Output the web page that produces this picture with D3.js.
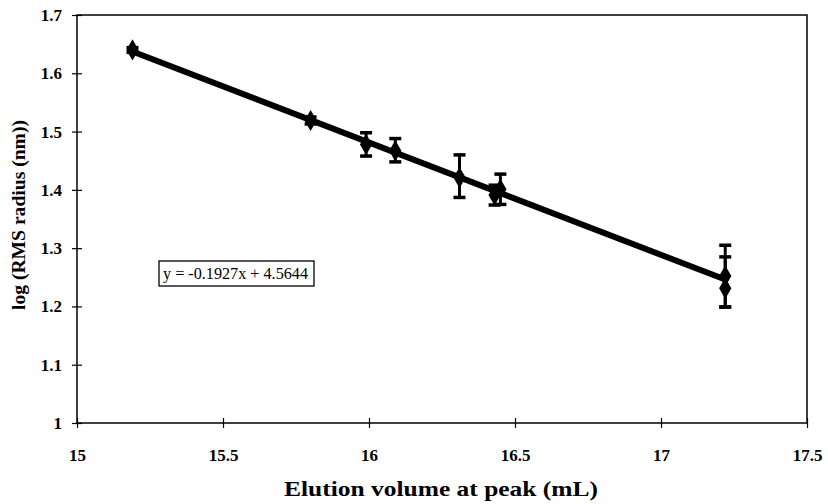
<!DOCTYPE html>
<html><head><meta charset="utf-8">
<script src="https://cdn.jsdelivr.net/npm/d3@7"></script>
<style>body{margin:0;background:#fff}svg{display:block}</style>
</head><body>
<script>
const xValues = [15.19, 15.80, 15.99, 16.09, 16.31, 16.43, 16.45, 17.22, 17.22];
const yValues = [1.640, 1.519, 1.478, 1.467, 1.421, 1.391, 1.401, 1.252, 1.231];
const errLow  = [0.004, 0.006, 0.020, 0.019, 0.034, 0.017, 0.026, 0.053, 0.032];
const errHigh = [0.004, 0.006, 0.020, 0.021, 0.039, 0.017, 0.026, 0.053, 0.054];
const slope = -0.1927, intercept = 4.5644;
const xTicks = [15, 15.5, 16, 16.5, 17, 17.5];
const yTicks = [1, 1.1, 1.2, 1.3, 1.4, 1.5, 1.6, 1.7];
const eqLabel = "y = -0.1927x + 4.5644";

const W = 828, H = 504;
const svg = d3.select("body").append("svg").attr("width", W).attr("height", H);
const x = d3.scaleLinear().domain([15, 17.5]).range([77, 807]);
const y = d3.scaleLinear().domain([1, 1.7]).range([423, 15]);
const font = "'Liberation Serif', 'Times New Roman', serif";

// frame
svg.append("rect").attr("x", 77).attr("y", 15).attr("width", 730).attr("height", 408)
  .attr("fill", "none").attr("stroke", "#000").attr("stroke-width", 1.5);

// axes
const xAx = svg.append("g").attr("transform", "translate(0,423)")
  .call(d3.axisBottom(x).tickValues(xTicks).tickSize(5).tickFormat(d3.format("")));
xAx.attr("font-family", null).attr("font-size", null);
xAx.select(".domain").remove();
xAx.selectAll(".tick line").attr("y1", -5).attr("y2", 5).attr("stroke-width", 1.2);
xAx.selectAll(".tick text").attr("y", 26)
  .style("font-family", font).style("font-weight", "bold").style("font-size", "17px").attr("fill", "#000");

const yAx = svg.append("g").attr("transform", "translate(77,0)")
  .call(d3.axisLeft(y).tickValues(yTicks).tickSize(5).tickFormat(d3.format("")));
yAx.attr("font-family", null).attr("font-size", null);
yAx.select(".domain").remove();
yAx.selectAll(".tick line").attr("x1", -5).attr("x2", 5).attr("stroke-width", 1.2);
yAx.selectAll(".tick text").attr("x", -15)
  .style("font-family", font).style("font-weight", "bold").style("font-size", "17px").attr("fill", "#000");

// axis titles
svg.append("text").attr("x", 441).attr("y", 496).attr("text-anchor", "middle")
  .style("font-family", font).style("font-weight", "bold").style("font-size", "21px")
  .attr("textLength", 314).attr("lengthAdjust", "spacingAndGlyphs").text("Elution volume at peak (mL)");
svg.append("text").attr("transform", "translate(25,215) rotate(-90)").attr("text-anchor", "middle")
  .style("font-family", font).style("font-weight", "bold").style("font-size", "19px")
  .attr("textLength", 190).attr("lengthAdjust", "spacingAndGlyphs").text("log (RMS radius (nm))");

// trend line
const x0 = d3.min(xValues), x1 = d3.max(xValues);
svg.append("line").attr("x1", x(x0)).attr("y1", y(slope * x0 + intercept))
  .attr("x2", x(x1)).attr("y2", y(slope * x1 + intercept))
  .attr("stroke", "#000").attr("stroke-width", 6);

// error bars
const idx = d3.range(xValues.length);
const eb = svg.append("g").attr("stroke", "#000");
eb.selectAll("line.v").data(idx).join("line")
  .attr("x1", i => x(xValues[i])).attr("x2", i => x(xValues[i]))
  .attr("y1", i => y(yValues[i] + errHigh[i])).attr("y2", i => y(yValues[i] - errLow[i]))
  .attr("stroke-width", 3);
eb.selectAll("line.t").data(idx).join("line")
  .attr("x1", i => x(xValues[i]) - 6).attr("x2", i => x(xValues[i]) + 6)
  .attr("y1", i => y(yValues[i] + errHigh[i])).attr("y2", i => y(yValues[i] + errHigh[i]))
  .attr("stroke-width", 3.5);
eb.selectAll("line.b").data(idx).join("line")
  .attr("x1", i => x(xValues[i]) - 6).attr("x2", i => x(xValues[i]) + 6)
  .attr("y1", i => y(yValues[i] - errLow[i])).attr("y2", i => y(yValues[i] - errLow[i]))
  .attr("stroke-width", 3.5);

// markers
const sym = d3.symbol().type(d3.symbolDiamond).size(130);
svg.selectAll("path.pt").data(idx).join("path")
  .attr("transform", i => `translate(${x(xValues[i])},${y(yValues[i])})`)
  .attr("d", sym).attr("fill", "#000");

// equation box
svg.append("rect").attr("x", 159).attr("y", 261).attr("width", 155).attr("height", 25)
  .attr("fill", "#fff").attr("stroke", "#000").attr("stroke-width", 1.3);
svg.append("text").attr("x", 163).attr("y", 279)
  .style("font-family", font).style("font-size", "16px").attr("fill", "#000")
  .attr("textLength", 145).attr("lengthAdjust", "spacingAndGlyphs").text(eqLabel);
</script>
</body></html>
